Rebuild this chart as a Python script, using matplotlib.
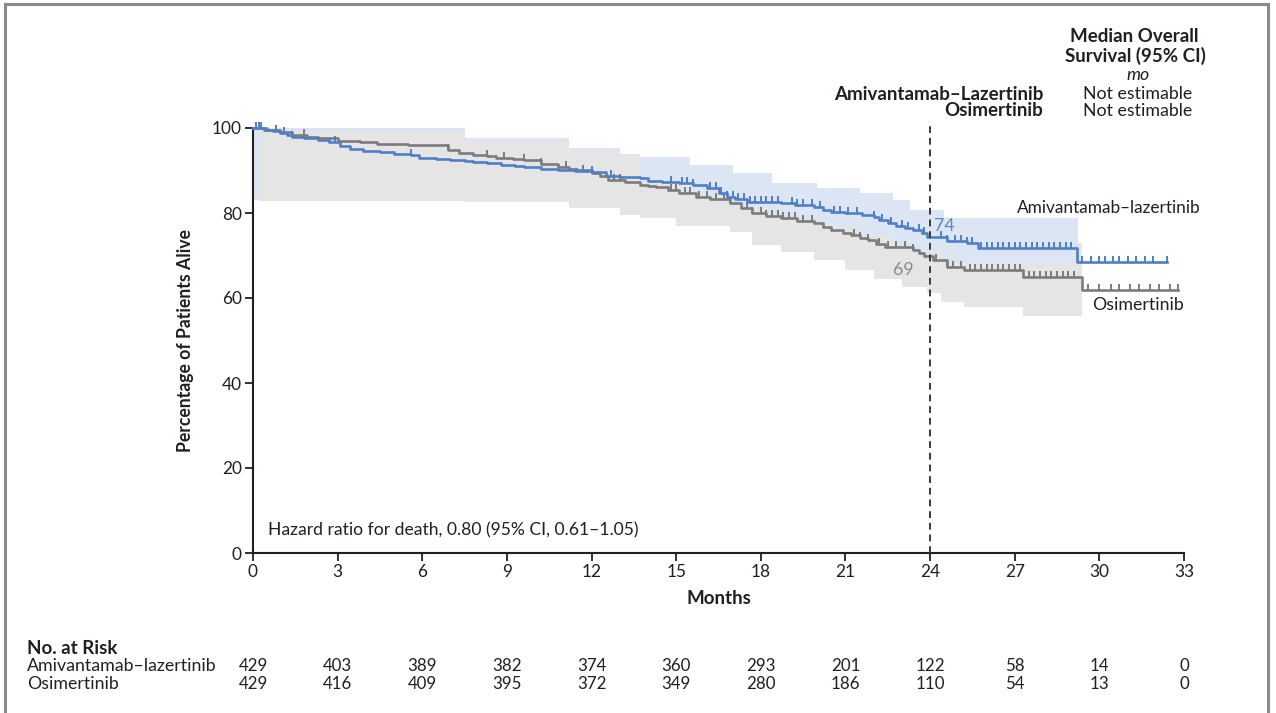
import numpy as np
import matplotlib
matplotlib.use("Agg")
import matplotlib.pyplot as plt
from matplotlib.path import Path
from matplotlib.lines import Line2D

plt.rcParams['font.family'] = ['Lato', 'DejaVu Sans']

# ---------------- data ----------------
# Kaplan-Meier step curves (time in months, % alive)
blue_t = [0, 0.4, 0.7, 0.96, 1.2, 1.4, 1.8, 2.3, 2.7, 3.1, 3.45, 3.9, 4.5, 5.0, 5.6,
          5.9, 6.5, 7.0, 7.5, 7.8, 8.3, 8.8, 9.3, 9.6, 10.2, 10.8, 11.4, 12.0, 12.5,
          13.0, 13.7, 14.0, 14.5, 15.1, 15.6, 16.1, 16.5, 16.8, 17.1, 17.5, 18.0, 18.7,
          19.2, 19.9, 20.2, 20.5, 21.0, 21.6, 22.0, 22.2, 22.5, 22.8, 23.1, 23.4, 23.7,
          23.9, 24.6, 25.3, 25.7, 29.2, 32.4]
blue_s = [100, 99.6, 99.2, 98.8, 98.3, 97.9, 97.6, 97.2, 96.6, 95.8, 95.0, 94.7, 94.4,
          94.0, 93.6, 93.0, 92.8, 92.5, 92.2, 92.0, 91.7, 91.3, 91.0, 90.8, 90.4, 90.1,
          89.8, 89.6, 88.6, 88.4, 88.2, 87.5, 87.3, 87.0, 86.5, 85.9, 84.8, 83.8, 83.2,
          82.7, 82.5, 82.3, 81.9, 81.4, 80.8, 80.2, 79.9, 79.5, 79.0, 78.4, 77.6, 76.9,
          76.4, 76.0, 75.2, 74.3, 73.4, 72.9, 71.8, 68.5, 68.5]

gray_t = [0, 0.5, 0.96, 1.4, 1.9, 2.3, 3.0, 3.8, 4.4, 5.5, 6.9, 7.3, 7.8, 8.3, 8.6,
          9.2, 9.6, 10.2, 10.8, 11.2, 11.5, 12.0, 12.3, 12.6, 13.2, 13.7, 14.0, 14.3,
          14.7, 15.1, 15.7, 16.2, 16.9, 17.3, 17.7, 18.2, 18.7, 19.3, 19.9, 20.2, 20.5,
          20.9, 21.2, 21.5, 21.8, 22.1, 22.4, 23.4, 23.6, 23.8, 24.1, 24.6, 25.2, 27.3,
          29.4, 32.8]
gray_s = [100, 99.6, 99.1, 98.4, 98.0, 97.6, 97.0, 96.6, 96.2, 96.0, 94.8, 94.2, 93.6,
          93.3, 93.0, 92.7, 92.5, 91.6, 90.8, 90.4, 90.1, 89.4, 88.6, 87.8, 87.2, 86.6,
          86.4, 86.1, 85.5, 84.7, 83.8, 83.2, 82.3, 81.2, 80.0, 79.4, 78.8, 78.2, 77.6,
          76.8, 76.0, 75.4, 74.8, 74.2, 73.6, 72.8, 72.0, 71.3, 70.5, 69.8, 69.0, 67.3,
          66.6, 65.0, 61.9, 61.9]

# Censoring times
blue_cens = [0.1, 0.2, 0.3, 0.8, 1.1, 1.4, 2.9, 5.6, 11.7, 12.0, 12.7, 14.8, 15.2, 15.4,
             15.6, 16.2, 16.4, 16.6, 16.8, 17.0, 17.2, 17.4, 17.6, 17.8, 18.0, 18.2, 18.4,
             18.6, 19.1, 19.3, 19.5, 19.8, 20.1, 20.6, 20.8, 21.1, 21.4, 22.0, 22.3, 22.6,
             23.0, 23.2, 23.6, 23.8, 24.4, 24.6, 24.9, 25.1, 25.3, 25.5, 25.8, 26.0, 26.2,
             26.4, 26.6, 26.8, 27.0, 27.2, 27.4, 27.6, 27.8, 28.0, 28.2, 28.4, 28.6, 28.8,
             29.0, 29.4, 29.7, 30.0, 30.2, 30.5, 30.7, 31.0, 31.3, 31.6, 31.9, 32.4]
gray_cens = [1.8, 6.9, 8.3, 8.9, 9.6, 10.2, 11.1, 12.8, 13.0, 14.8, 15.0, 15.3, 15.5,
             15.8, 16.1, 16.4, 16.7, 16.9, 17.5, 17.7, 18.0, 18.2, 18.4, 18.6, 18.8, 19.0,
             19.2, 19.5, 19.8, 21.3, 21.5, 21.8, 22.2, 22.5, 22.8, 23.1, 23.4, 24.2, 24.6,
             24.8, 25.1, 25.4, 25.6, 25.8, 26.0, 26.2, 26.4, 26.6, 26.8, 27.0, 27.2, 27.5,
             27.7, 27.9, 28.1, 28.3, 28.5, 28.7, 28.9, 29.1, 29.6, 30.0, 30.4, 30.7, 31.1,
             31.4, 31.8, 32.1, 32.5, 32.8]

# Confidence bands (step functions)
blue_ci_t = [0, 0.2, 7.5, 11.2, 13.0, 13.7, 15.5, 17, 18.4, 20, 21.5, 22.7, 23.3,
             24.5, 29.25]
blue_ci_hi = [100, 100, 97.6, 95.3, 94.0, 93.2, 91.3, 89.4, 87.0, 85.9, 84.7, 83.0,
              80.7, 78.8, 77.9]
blue_ci_lo = [83, 99.3, 96.9, 94.6, 93.3, 87.0, 84.0, 81.0, 78.5, 77.0, 74.5, 72.5,
              71.0, 68.5, 65.7]

gray_ci_t = [0.2, 6, 7.5, 11.2, 13.0, 13.7, 15, 16.9, 17.7, 18.7, 19.9, 21, 22, 23,
             23.9, 24.4, 25.2, 27.3, 29.4]
gray_ci_hi = [100, 99.3, 97.0, 94.8, 93.5, 93.0, 91, 89, 87, 86, 84, 82.5, 81, 79.5,
              77, 76, 75, 73, 73]
gray_ci_lo = [82.8, 82.8, 82.6, 81.2, 79.6, 78.8, 77.0, 75.5, 72.5, 70.8, 68.9, 66.6,
              64.5, 62.5, 61.2, 59.0, 57.9, 55.8, 55.8]

x_ticks = [0, 3, 6, 9, 12, 15, 18, 21, 24, 27, 30, 33]
y_ticks = [0, 20, 40, 60, 80, 100]
risk_groups = ["Amivantamab\u2013lazertinib", "Osimertinib"]
risk_blue = [429, 403, 389, 382, 374, 360, 293, 201, 122, 58, 14, 0]
risk_gray = [429, 416, 409, 395, 372, 349, 280, 186, 110, 54, 13, 0]

BLUE = "#4f7fc6"
GRAY = "#7c7c7c"
BLUE_BAND = "#dce5f3"
GRAY_BAND = "#e5e5e5"
TXT = "#231f20"
BOLD_FS = 13.5
REG_FS = 12.8

# ---------------- figure ----------------
W, H = 1276, 713
fig = plt.figure(figsize=(W / 100, H / 100), dpi=100)
ax = fig.add_axes([253 / W, 1 - 553 / H, 931 / W, 425 / H])

ax.fill_between(gray_ci_t, gray_ci_lo, gray_ci_hi, step='post', color=GRAY_BAND,
                lw=0, zorder=1)
ax.fill_between(blue_ci_t, blue_ci_lo, blue_ci_hi, step='post', color=BLUE_BAND,
                lw=0, zorder=2)

ax.step(gray_t, gray_s, where='post', color=GRAY, lw=1.9, zorder=4, clip_on=False)
ax.step(blue_t, blue_s, where='post', color=BLUE, lw=1.9, zorder=5, clip_on=False)

tick_marker = Path([(0, 0), (0, 1)], [Path.MOVETO, Path.LINETO])


def surv_at(ts, ss, t):
    i = np.searchsorted(ts, t, side='right') - 1
    return np.asarray(ss)[i]


gc = np.array(gray_cens)
ax.plot(gc, surv_at(gray_t, gray_s, gc), ls='none', marker=tick_marker, ms=8,
        mec=GRAY, mew=1.4, zorder=4, clip_on=False)
bc = np.array(blue_cens)
ax.plot(bc, surv_at(blue_t, blue_s, bc), ls='none', marker=tick_marker, ms=8,
        mec=BLUE, mew=1.4, zorder=5, clip_on=False)

# dashed line at 24 months
ax.plot([24, 24], [0, 101.5], ls=(0, (3.5, 2.5)), color="#3a3a3a", lw=1.4,
        zorder=6, clip_on=False)
ax.text(24.15, 77.0, "74", color="#5b87c9", fontsize=REG_FS, ha='left', va='center',
        zorder=7)
ax.text(23.4, 66.6, "69", color="#8c8c8c", fontsize=REG_FS, ha='right', va='center',
        zorder=7)

ax.text(33.6, 81.2, "Amivantamab\u2013lazertinib", color=TXT, fontsize=12.4,
        ha='right', va='center')
ax.text(33.0, 58.4, "Osimertinib", color=TXT, fontsize=REG_FS, ha='right',
        va='center')

ax.text(0.53, 5.4, "Hazard ratio for death, 0.80 (95% CI, 0.61\u20131.05)", color=TXT,
        fontsize=12.6, ha='left', va='center')

ax.set_xlim(0, 33)
ax.set_ylim(0, 100)
ax.set_xticks(x_ticks)
ax.set_yticks(y_ticks)
ax.tick_params(direction='out', length=6, width=1.3, colors=TXT, labelsize=12.4,
               pad=2)
for s in ['top', 'right']:
    ax.spines[s].set_visible(False)
for s in ['left', 'bottom']:
    ax.spines[s].set_linewidth(1.5)
    ax.spines[s].set_color(TXT)
ax.set_facecolor('none')

ax.set_xlabel("Months", fontsize=BOLD_FS, fontweight='bold', color=TXT, labelpad=7)
ax.set_ylabel("Percentage of Patients Alive", fontsize=12.7, fontweight='bold',
              color=TXT, labelpad=13)


def fy(p):
    return 1 - p / H


def fx(p):
    return p / W


# header table
fig.text(fx(1134), fy(37), "Median Overall", fontsize=BOLD_FS, fontweight='bold',
         color=TXT, ha='center', va='center')
fig.text(fx(1135), fy(56), "Survival (95% CI)", fontsize=BOLD_FS, fontweight='bold',
         color=TXT, ha='center', va='center')
fig.text(fx(1138), fy(75), "mo", fontsize=REG_FS, fontstyle='italic', color=TXT,
         ha='center', va='center')
fig.text(fx(1138), fy(94), "Not estimable", fontsize=REG_FS, color=TXT, ha='center',
         va='center')
fig.text(fx(1138), fy(111), "Not estimable", fontsize=REG_FS, color=TXT, ha='center',
         va='center')
fig.text(fx(1043), fy(94), "Amivantamab\u2013Lazertinib", fontsize=BOLD_FS,
         fontweight='bold', color=TXT, ha='right', va='center')
fig.text(fx(1043), fy(111), "Osimertinib", fontsize=BOLD_FS, fontweight='bold',
         color=TXT, ha='right', va='center')

# number at risk
fig.text(fx(27), fy(648), "No. at Risk", fontsize=BOLD_FS, fontweight='bold',
         color=TXT, ha='left', va='center')
for row, (name, vals) in enumerate(zip(risk_groups, [risk_blue, risk_gray])):
    yy = fy(666 + 18 * row)
    fig.text(fx(27), yy, name, fontsize=REG_FS, color=TXT, ha='left', va='center')
    for t, v in zip(x_ticks, vals):
        xd = ax.transData.transform((t, 0))[0]
        xf = fig.transFigure.inverted().transform((xd, 0))[0]
        fig.text(xf, yy, str(v), fontsize=12.2, color=TXT, ha='center', va='center')

# frame around figure
frame_col = "#8a8a8a"
fig.add_artist(Line2D([fx(5), fx(1268)], [fy(4), fy(4)], color=frame_col, lw=2.2,
                      transform=fig.transFigure))
fig.add_artist(Line2D([fx(5), fx(5)], [fy(4), 0], color=frame_col, lw=2.2,
                      transform=fig.transFigure))
fig.add_artist(Line2D([fx(1268), fx(1268)], [fy(4), 0], color=frame_col, lw=2.2,
                      transform=fig.transFigure))

fig.savefig("out.png", dpi=100, facecolor='white')
